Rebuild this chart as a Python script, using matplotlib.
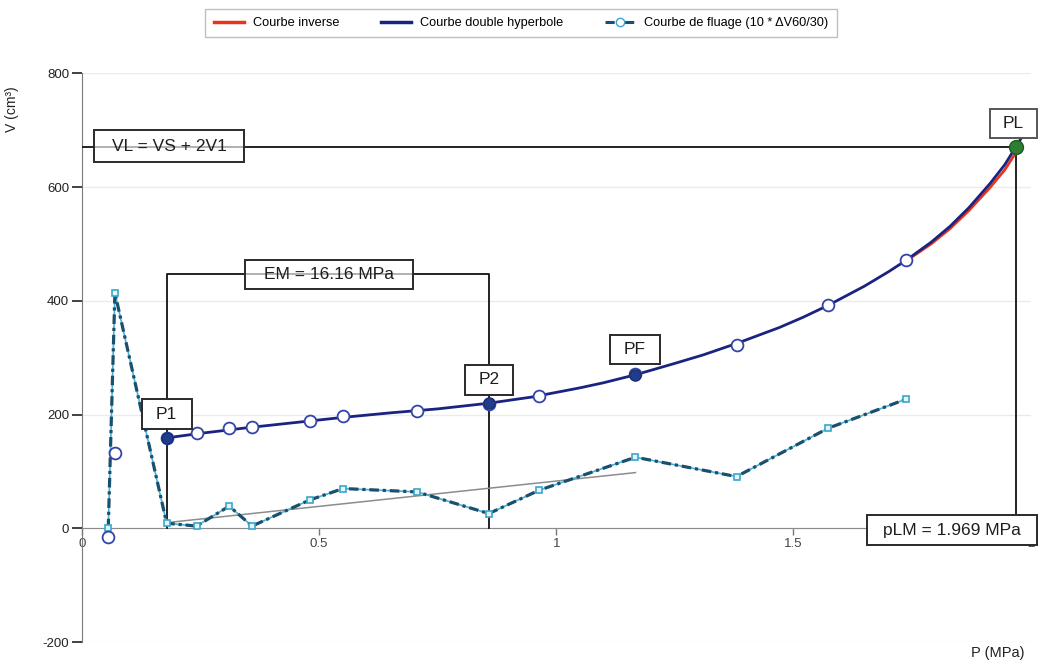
import matplotlib
matplotlib.use("Agg")
import matplotlib.pyplot as plt
from matplotlib.lines import Line2D
from matplotlib.patches import Rectangle

plt.rcParams['font.family'] = ['Liberation Sans', 'DejaVu Sans']
plt.rcParams['axes.unicode_minus'] = False

# measured points (pressure / volume)
p_meas = [0.056, 0.070, 0.179, 0.242, 0.311, 0.359, 0.481, 0.551, 0.707,
          0.858, 0.964, 1.167, 1.380, 1.573, 1.737]
v_meas = [-15, 132, 159, 167, 177, 179, 189, 198, 207,
          219, 233, 271, 323, 392, 472]
# creep curve (10 * dV60/30)
v_creep = [0, 414, 9, 4, 39, 4, 50, 70, 64,
           26, 67, 125, 91, 176, 227]

# double hyperbola fit
p_hyp = [0.179, 0.25, 0.35, 0.45, 0.55, 0.65, 0.75, 0.858, 0.95, 1.05,
         1.10, 1.167, 1.25, 1.31, 1.38, 1.47, 1.52, 1.573, 1.65, 1.70,
         1.737, 1.79, 1.83, 1.87, 1.914, 1.945, 1.969, 1.985]
v_hyp = [159, 167, 177, 186, 195, 203, 210, 220, 231, 247,
         256, 270, 290, 305, 325, 353, 371, 392, 426, 451,
         471, 503, 531, 564, 606, 639, 671, 693]

# inverse curve (only visible near the end)
p_inv = [1.737, 1.79, 1.83, 1.87, 1.914, 1.945, 1.969]
v_inv = [470, 500, 527, 559, 599, 630, 661]

# characteristic points
p1, v1 = 0.179, 159
p2, v2 = 0.858, 220
pf, vf = 1.167, 270
pl, vl = 1.969, 671
em_level = 447
trend_p = [0.179, 1.167]
trend_v = [10, 98]

fig = plt.figure(figsize=(10.38, 6.61), dpi=100)
ax = fig.add_axes([0.0787, 0.0286, 0.9143, 0.8605])
ax.set_xlim(0, 2)
ax.set_ylim(-200, 800)

# axes styling
for s in ['top', 'right']:
    ax.spines[s].set_visible(False)
ax.spines['bottom'].set_position(('data', 0))
ax.spines['bottom'].set_color('#8a8a8a')
ax.spines['left'].set_color('#7a7a7a')
ax.set_xticks([0, 0.5, 1, 1.5, 2])
ax.set_xticklabels(['0', '0.5', '1', '1.5', '2'])
ax.set_yticks([-200, 0, 200, 400, 600, 800])
ax.tick_params(axis='y', direction='out', length=7, width=1.3, color='#333333',
               labelsize=9.5, pad=2, labelcolor='#222222')
ax.tick_params(axis='x', direction='out', length=5, width=1.0, color='#777777',
               labelsize=9.5, pad=2, labelcolor='#444444')
ax.yaxis.grid(True, color='#ebebeb', lw=1)
ax.set_axisbelow(True)

# helper: boxed label with fixed pixel size
pos = ax.get_position()
px_x = fig.get_figwidth() * fig.dpi * pos.width / 2.0
px_y = fig.get_figheight() * fig.dpi * pos.height / 1000.0


def label_box(x, y, text, w, h, fc='white', ec='#2a2a2a', fs=12.5):
    dx, dy = w / px_x, h / px_y
    ax.add_patch(Rectangle((x - dx / 2, y - dy / 2), dx, dy, fc=fc, ec=ec,
                           lw=1.4, zorder=6, clip_on=False))
    ax.text(x, y, text, ha='center', va='center', fontsize=fs,
            color='#1e1e1e', zorder=7, clip_on=False)


# construction lines
line_kw = dict(color='#111111', lw=1.3, zorder=3)
ax.plot([0, pl], [vl, vl], **line_kw)
ax.plot([pl, pl], [vl, 25], **line_kw)
ax.plot([p1, p1, p2, p2], [0, em_level, em_level, 0], **line_kw)
ax.plot(trend_p, trend_v, color='#8c8c8c', lw=1.1, zorder=3)

# creep curve
ax.plot(p_meas, v_creep, color='#45b3d6', lw=1.2, zorder=4)
ax.plot(p_meas, v_creep, color='#1b4f6e', lw=2.3, ls=(0, (3, 1.2, 1, 1.2)),
        marker='s', ms=5, mfc='#e6f5fa', mec='#3aa6cc', mew=1.2, zorder=4)

# fitted curves
ax.plot(p_inv, v_inv, color='#e8341c', lw=2, zorder=4)
ax.plot(p_hyp, v_hyp, color='#1a2480', lw=2, zorder=5)

# measured points
ax.plot(p_meas, v_meas, ls='none', marker='o', ms=8.5, mfc='white',
        mec='#3444a8', mew=1.3, zorder=6)
ax.plot([p1, p2, pf], [v1, v2, vf], ls='none', marker='o', ms=8,
        mfc='#1f3c8f', mec='#1a2f70', zorder=7)
ax.plot([pl], [vl], ls='none', marker='o', ms=10, mfc='#2e7d32',
        mec='#1b5e20', zorder=8)

# labels
label_box(0.185, 672, 'VL = VS + 2V1', 150, 32, fc=(1, 1, 1, 0.65))
label_box(0.521, em_level, 'EM = 16.16 MPa', 168, 29, fc=(1, 1, 1, 0.65))
label_box(0.179, 201, 'P1', 50, 30)
label_box(0.858, 261, 'P2', 48, 30)
label_box(1.166, 314, 'PF', 50, 29)
label_box(1.964, 711, 'PL', 47, 29, ec='#555555')
label_box(1.834, -3, 'pLM = 1.969 MPa', 170, 30)

fig.text(0.012, 0.835, 'V (cm³)', rotation=90, ha='center', va='center',
         fontsize=10, color='#222222')
fig.text(0.987, 0.012, 'P (MPa)', ha='right', va='center', fontsize=10.5,
         color='#222222')

# legend
handles = [
    Line2D([], [], color='#e8341c', lw=2.5),
    Line2D([], [], color='#1a2480', lw=2.5),
    Line2D([], [], color='#1b4f6e', lw=2.2, ls=(0, (3, 1.2, 1, 1.2)),
           marker='o', ms=6, mfc='white', mec='#3aa6cc'),
]
labels = ['Courbe inverse', 'Courbe double hyperbole',
          'Courbe de fluage (10 * ΔV60/30)']
fig.legend(handles, labels, loc='center', bbox_to_anchor=(0.502, 0.965),
           ncol=3, fontsize=9.2, frameon=True, fancybox=False,
           edgecolor='#b0b0b0', handlelength=2.4, columnspacing=3.2,
           borderpad=0.65, handletextpad=0.7, borderaxespad=0)

fig.savefig('out.png', dpi=100)
